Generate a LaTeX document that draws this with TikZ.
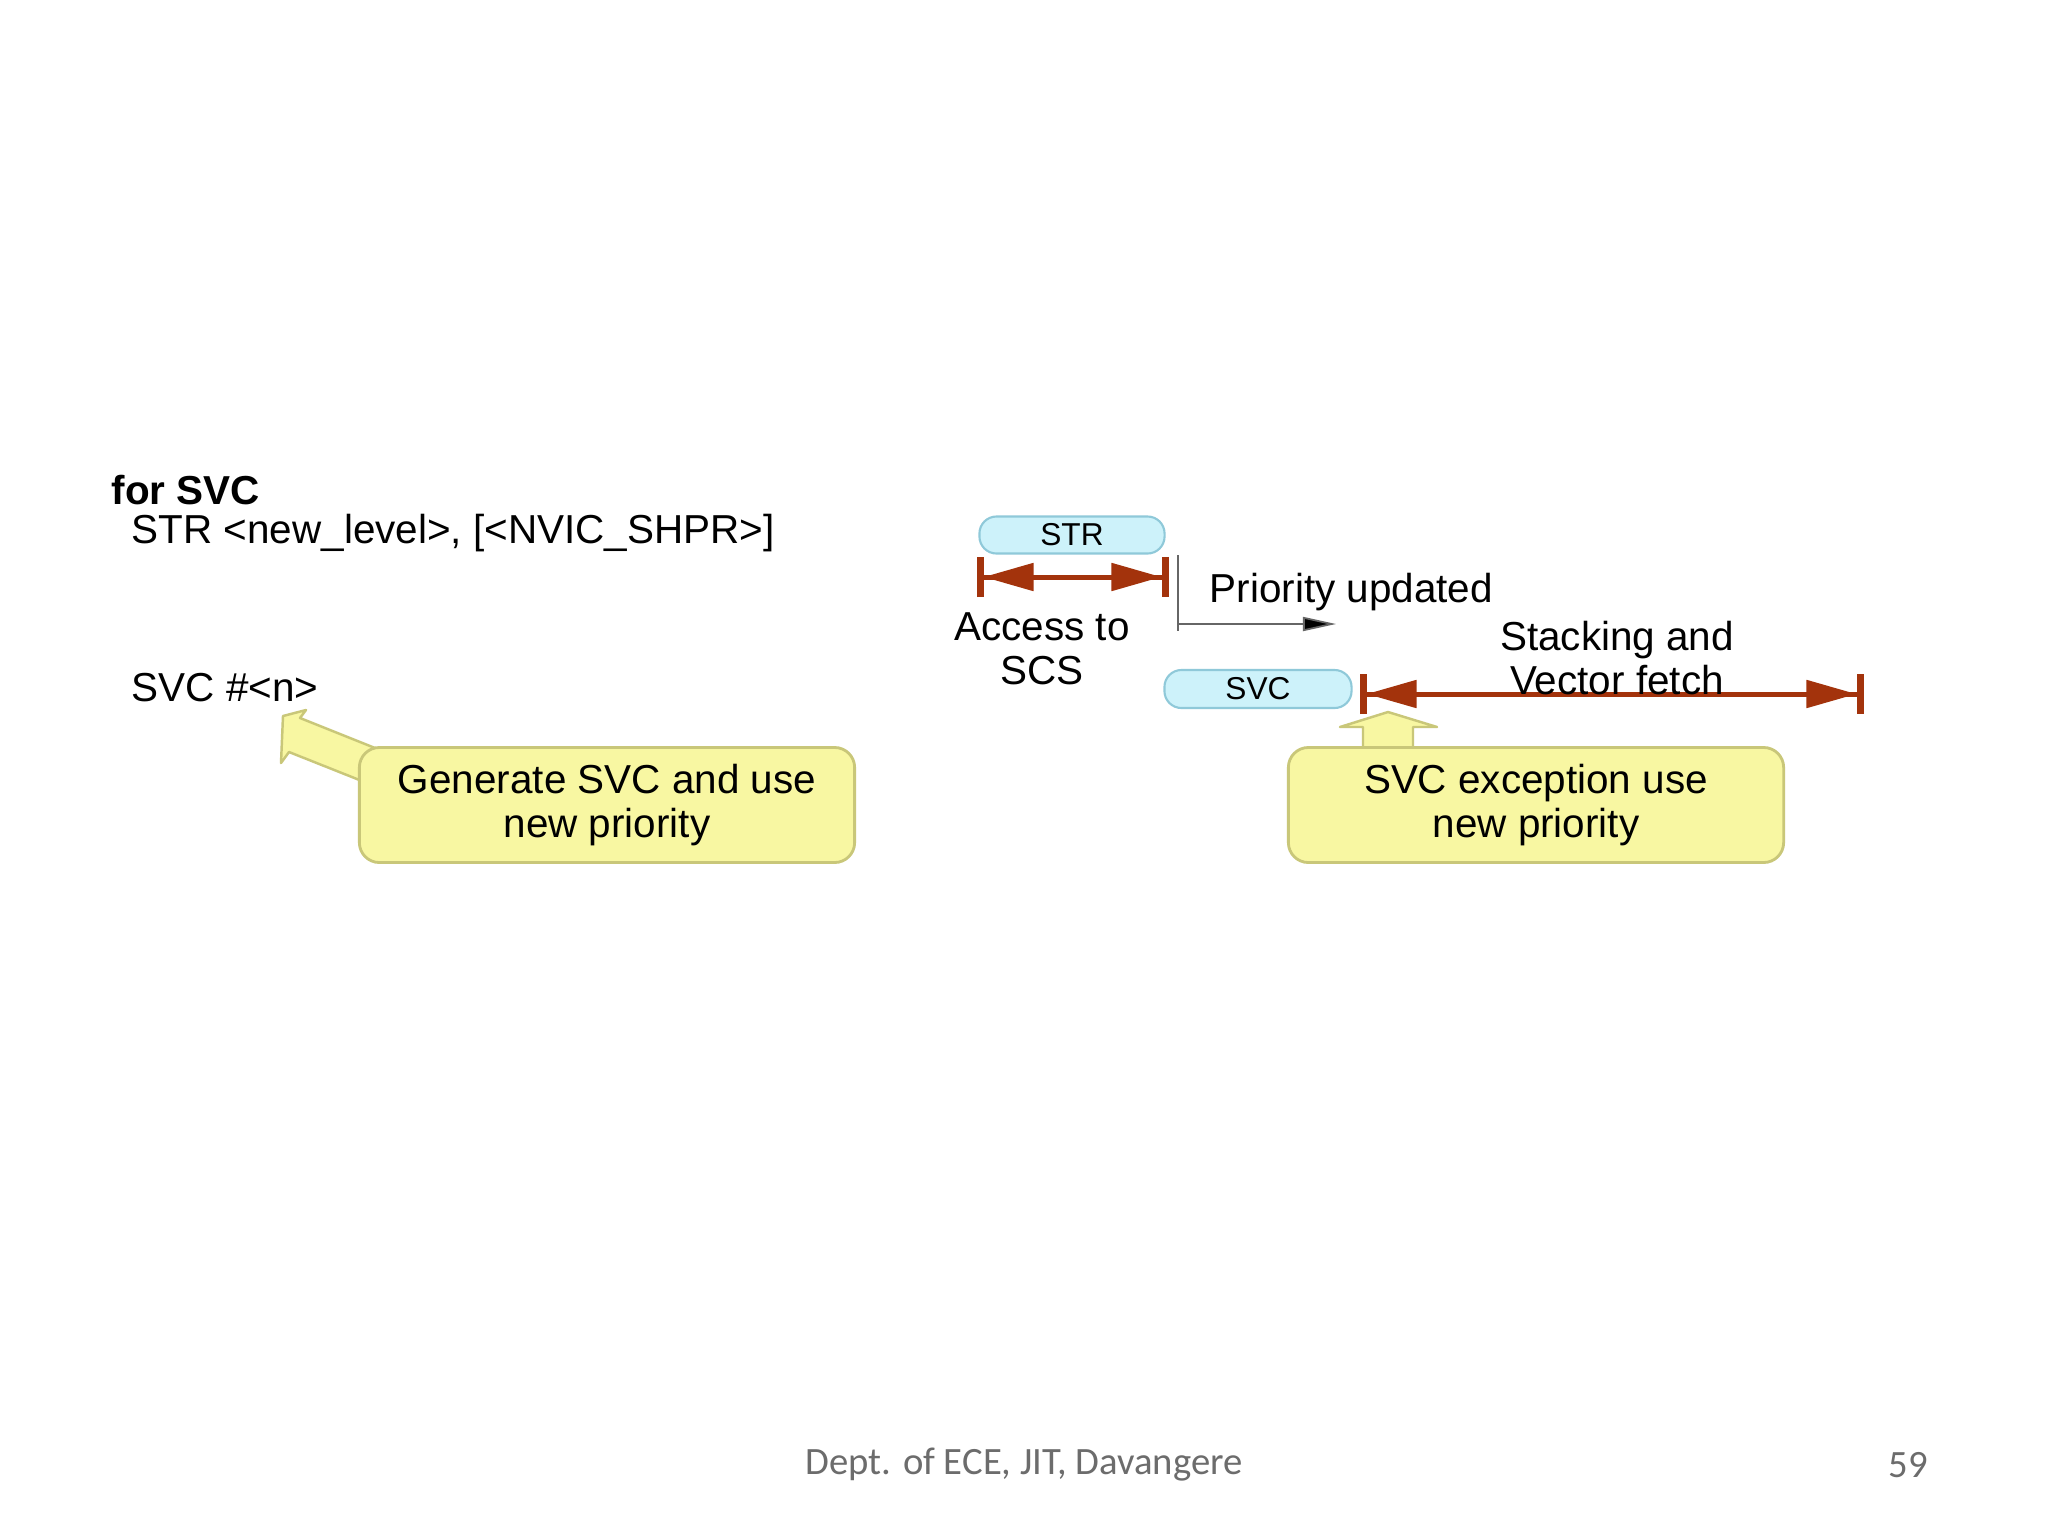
\documentclass[tikz,border=0pt]{standalone}
\usepackage{fontspec}
\setmainfont{Liberation Sans}
\newfontfamily\footfont{Carlito}
\usetikzlibrary{arrows.meta}
\definecolor{brk}{HTML}{A3330C}
\definecolor{pill}{HTML}{CDF2FA}
\definecolor{pillb}{HTML}{8FC9D9}
\definecolor{yel}{HTML}{F8F7A2}
\definecolor{yelb}{HTML}{C9C779}
\begin{document}
\begin{tikzpicture}[x=0.01cm,y=-0.01cm,
  txt/.style={font=\fontsize{11.5}{13}\selectfont, inner sep=0pt},
  pillst/.style={draw=pillb, fill=pill, rounded corners=0.17cm, line width=0.6pt, font=\fontsize{9}{10}\selectfont, inner sep=0pt},
  ybox/.style={draw=yelb, fill=yel, rounded corners=0.2cm, line width=0.8pt, align=center, font=\fontsize{11.5}{12.5}\selectfont, inner sep=0pt},
  dbl/.style={draw=brk, line width=0.05cm, {Bar[width=0.4cm,line width=0.07cm]Triangle[length=0.5cm,width=0.27cm]}-{Triangle[length=0.5cm,width=0.27cm]Bar[width=0.4cm,line width=0.07cm]}, shorten <=-0.035cm, shorten >=-0.035cm},
  fat/.style={draw=yelb, fill=yel, line width=0.7pt, line join=round}]
\useasboundingbox (0,0) rectangle (2048,1536);
\fill[white] (0,0) rectangle (2048,1536);
% left text
\node[txt, anchor=west, font=\fontsize{11.5}{13}\selectfont\bfseries] (forsvc) at (111,490) {for SVC};
\node[txt, anchor=west] (str) at (131,533) {STR <new\_level>, [<NVIC\_SHPR>]};
\node[txt, anchor=west] (svcn) at (131,688) {SVC \#<n>};
% left fat arrow
\draw[fat] (385,752) -- (300,718) -- (306,710) -- (283,716) -- (281,763) -- (289,752) -- (372,785) -- cycle;
\node[ybox, minimum width=4.95cm, minimum height=1.15cm] (lbox) at (607,805) {Generate SVC and use\\new priority};
% STR pill and access arrow
\node[pillst, minimum width=1.85cm, minimum height=0.37cm] (strp) at (1072,535) {STR};
\coordinate (a1) at (980,577);
\coordinate (a2) at (1165,577);
\draw[dbl] (a1) -- (a2);
\node[txt, align=center, font=\fontsize{11.5}{12.5}\selectfont] (acc) at (1042,649) {Access to\\SCS};
% priority updated
\coordinate (v1) at (1178,555);
\coordinate (v2) at (1178,631);
\coordinate (h2) at (1336,624);
\draw[gray!80!black, line width=0.5pt] (v1) -- (v2);
\draw[gray!80!black, line width=0.5pt, -{Triangle[length=0.33cm,width=0.14cm,fill=black]}] (1178,624) -- (h2);
\node[txt, anchor=west] (pu) at (1209,592) {Priority updated};
% SVC pill and stacking arrow
\node[pillst, minimum width=1.87cm, minimum height=0.38cm] (svcp) at (1258,689) {SVC};
\coordinate (b1) at (1363,694);
\coordinate (b2) at (1860,694);
\draw[dbl] (b1) -- (b2);
\node[txt, align=center, font=\fontsize{11.5}{12.5}\selectfont] (stk) at (1617,658) {Stacking and\\Vector fetch};
% right fat up arrow
\draw[fat] (1363,750) -- (1363,727) -- (1340,727) -- (1388,712) -- (1437,727) -- (1413,727) -- (1413,750) -- cycle;
\node[ybox, minimum width=4.95cm, minimum height=1.15cm] (rbox) at (1536,805) {SVC exception use\\new priority};
% footer
\node[inner sep=0pt, text=gray!85!black, font=\footfont\fontsize{11}{12}\selectfont] (foot) at (1024,1465) {Dept. of ECE, JIT, Davangere};
\node[inner sep=0pt, text=gray!85!black, font=\footfont\fontsize{11}{12}\selectfont] (pg) at (1908,1465) {59};
\end{tikzpicture}
\end{document}
